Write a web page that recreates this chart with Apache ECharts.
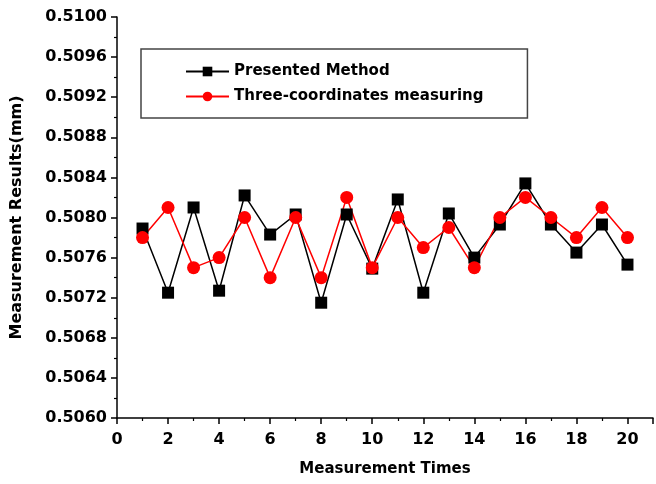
<!DOCTYPE html>
<html>
<head>
<meta charset="utf-8">
<script src="https://cdn.jsdelivr.net/npm/echarts@6/dist/echarts.min.js"></script>
<style>
  html, body { margin: 0; padding: 0; background: #fff; }
  #main { width: 656px; height: 484px; }
</style>
</head>
<body>
<div id="main"></div>
<script>
// measurement index 1..20
var times = [1, 2, 3, 4, 5, 6, 7, 8, 9, 10, 11, 12, 13, 14, 15, 16, 17, 18, 19, 20];
var presented = [0.50789, 0.50725, 0.50810, 0.50727, 0.50822, 0.50783, 0.50803, 0.50715, 0.50803, 0.50749,
                 0.50818, 0.50725, 0.50804, 0.50760, 0.50793, 0.50834, 0.50793, 0.50765, 0.50793, 0.50753];
var threeCoord = [0.50780, 0.50810, 0.50750, 0.50760, 0.50800, 0.50740, 0.50800, 0.50740, 0.50820, 0.50750,
                  0.50800, 0.50770, 0.50790, 0.50750, 0.50800, 0.50820, 0.50800, 0.50780, 0.50810, 0.50780];

var font = 'DejaVu Sans';

function pairs(ys) {
  return times.map(function (t, i) { return [t, ys[i]]; });
}

var myChart = echarts.init(document.getElementById('main'));
var option = {
  animation: false,
  backgroundColor: '#fff',
  grid: { left: 117, right: 3, top: 17, bottom: 66 },
  legend: {
    orient: 'vertical',
    left: 141,
    top: 49,
    padding: [15, 44, 14, 44],
    borderColor: '#444',
    borderWidth: 1.5,
    itemWidth: 43,
    itemHeight: 12,
    itemGap: 10,
    textStyle: { fontFamily: font, fontWeight: 'bold', fontSize: 15, color: '#000' },
    data: ['Presented Method', 'Three-coordinates measuring']
  },
  xAxis: {
    type: 'value',
    min: 0,
    max: 21,
    interval: 2,
    name: 'Measurement Times',
    nameLocation: 'middle',
    nameGap: 44,
    nameTextStyle: { fontFamily: font, fontWeight: 'bold', fontSize: 15, color: '#000' },
    axisLine: { lineStyle: { color: '#000', width: 1.5 } },
    axisTick: { inside: false, length: 6, lineStyle: { color: '#000', width: 1.5 } },
    minorTick: { show: true, splitNumber: 2, length: 3, lineStyle: { color: '#000', width: 1.2 } },
    axisLabel: {
      margin: 14, fontFamily: font, fontWeight: 'bold', fontSize: 16, color: '#000',
      formatter: function (v) { return v > 20 ? '' : String(v); }
    },
    splitLine: { show: false }
  },
  yAxis: {
    type: 'value',
    min: 0.506,
    max: 0.510,
    interval: 0.0004,
    name: 'Measurement Results(mm)',
    nameLocation: 'middle',
    nameGap: 92,
    nameTextStyle: { fontFamily: font, fontWeight: 'bold', fontSize: 16, color: '#000' },
    axisLine: { show: true, lineStyle: { color: '#000', width: 1.5 } },
    axisTick: { show: true, inside: false, length: 6, lineStyle: { color: '#000', width: 1.5 } },
    minorTick: { show: true, splitNumber: 2, length: 3, lineStyle: { color: '#000', width: 1.2 } },
    axisLabel: {
      margin: 10, fontFamily: font, fontWeight: 'bold', fontSize: 16, color: '#000',
      formatter: function (v) { return v.toFixed(4); }
    },
    splitLine: { show: false }
  },
  series: [
    {
      name: 'Presented Method',
      type: 'line',
      data: pairs(presented),
      symbol: 'rect',
      symbolSize: 12,
      color: '#000',
      lineStyle: { color: '#000', width: 1.5 },
      itemStyle: { color: '#000' }
    },
    {
      name: 'Three-coordinates measuring',
      type: 'line',
      data: pairs(threeCoord),
      symbol: 'circle',
      symbolSize: 13,
      color: '#ff0000',
      lineStyle: { color: '#ff0000', width: 1.5 },
      itemStyle: { color: '#ff0000' }
    }
  ]
};
myChart.setOption(option);
</script>
</body>
</html>
